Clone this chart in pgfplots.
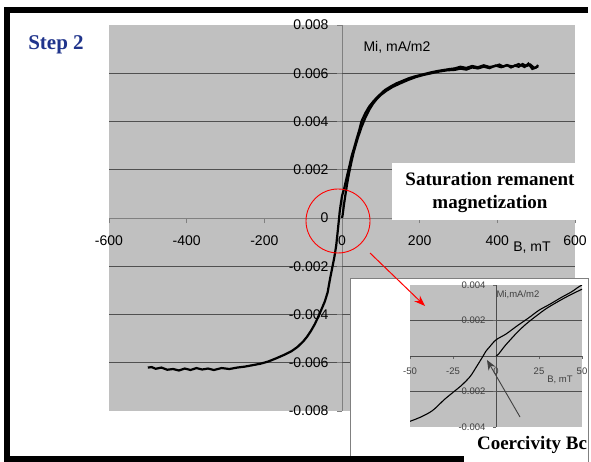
\documentclass[border=0pt]{standalone}
\usepackage{fontspec}
\setmainfont{Liberation Serif}
\setsansfont{Liberation Sans}
\usepackage{pgfplots}
\pgfplotsset{compat=1.18}
\usepackage{pgfplotstable}
\usetikzlibrary{arrows.meta}

\definecolor{plotgray}{RGB}{192,192,192}
\definecolor{stepblue}{RGB}{32,52,140}
\definecolor{gridc}{RGB}{80,80,80}

% descending branch (from +500 mT down to -500 mT)
\pgfplotstableread{
B M
505 0.00628
495 0.00622
485 0.00636
475 0.00630
465 0.00638
455 0.00627
445 0.00632
435 0.00624
425 0.00634
415 0.00628
405 0.00636
395 0.00630
380 0.00626
365 0.00633
350 0.00625
335 0.00630
320 0.00622
305 0.00627
290 0.00620
275 0.00617
260 0.00613
245 0.00609
230 0.00604
215 0.00598
200 0.00592
185 0.00586
170 0.00578
155 0.00568
140 0.00558
125 0.00545
110 0.00530
100 0.00515
90 0.00500
80 0.00482
70 0.00462
60 0.00435
50 0.00400
44 0.00362
38 0.00330
31 0.00290
25 0.00258
19 0.00215
12 0.00168
6 0.00125
0 0.00091
-3.6 0.00053
-6 0.00025
-7.5 0.00000
-11 -0.00055
-15 -0.00115
-20 -0.00165
-25 -0.00205
-30 -0.00245
-37 -0.00308
-44 -0.00345
-50 -0.00368
-60 -0.00405
-70 -0.00440
-80 -0.00468
-90 -0.00492
-100 -0.00512
-115 -0.00535
-130 -0.00552
-150 -0.00568
-170 -0.00582
-190 -0.00595
-210 -0.00604
-230 -0.00610
-250 -0.00616
-270 -0.00620
-290 -0.00626
-310 -0.00622
-330 -0.00630
-345 -0.00624
-360 -0.00628
-375 -0.00622
-390 -0.00630
-405 -0.00624
-420 -0.00632
-435 -0.00626
-450 -0.00629
-465 -0.00620
-480 -0.00625
-490 -0.00618
-500 -0.00620
}\desc

% initial magnetisation curve (from 0 up to +500 mT)
\pgfplotstableread{
B M
0 0.00000
1.4 0.00010
5 0.00055
8.3 0.00091
13 0.00140
18.2 0.00186
24 0.00230
30 0.00272
40 0.00328
50 0.00376
60 0.00415
70 0.00448
80 0.00474
90 0.00494
100 0.00510
115 0.00528
130 0.00543
150 0.00558
170 0.00572
190 0.00584
210 0.00593
230 0.00600
250 0.00607
270 0.00612
290 0.00614
305 0.00619
320 0.00615
335 0.00624
350 0.00620
365 0.00627
380 0.00621
395 0.00632
410 0.00625
425 0.00633
440 0.00628
455 0.00638
470 0.00626
480 0.00640
490 0.00618
500 0.00624
505 0.00634
}\init

\begin{document}
\begin{tikzpicture}[x=1pt,y=1pt]
\useasboundingbox (0,0) rectangle (591,462);
\fill[white] (0,0) rectangle (591,462);

% main chart
\begin{axis}[
    at={(109pt,51pt)}, anchor=south west,
    scale only axis, width=466pt, height=386pt,
    xmin=-600, xmax=600, ymin=-0.008, ymax=0.008,
    axis lines=middle,
    axis line style={-, gray, line width=1pt},
    axis background/.style={fill=plotgray},
    hide obscured x ticks=false, hide obscured y ticks=false,
    scaled y ticks=false, scaled x ticks=false,
    xtick={-600,-400,-200,0,200,400,600},
    xticklabels={-600,-400,-200,0,200,400,600},
    ytick={-0.008,0,0.008},
    yticklabels={-0.008,0,0.008},
    extra y ticks={-0.006,-0.004,-0.002,0.002,0.004,0.006},
    extra y tick labels={-0.006,-0.004,-0.002,0.002,0.004,0.006},
    extra y tick style={grid=major},
    major grid style={gridc, line width=1.1pt},
    tick style={gray, line width=0.8pt},
    tick align=outside, major tick length=5pt,
    ticklabel style={font=\sffamily\fontsize{14}{16}\selectfont},
    xticklabel style={yshift=-9pt},
    yticklabel style={xshift=-5pt},
]
\addplot[black, line width=2.2pt] table[x=B, y=M] {\desc};
\addplot[black, line width=2.2pt] table[x=B, y=M] {\init};
\end{axis}

% labels of the main chart
\node[font=\sffamily\fontsize{14}{16}\selectfont] at (397,415) {Mi, mA/m2};
\node[font=\sffamily\fontsize{14}{16}\selectfont] at (532,214) {B, mT};
\node[font=\bfseries\fontsize{21}{24}\selectfont, text=stepblue] at (56,417) {Step 2};

% callout box
\fill[white] (392,242) rectangle (576,299);
\node[font=\bfseries\fontsize{19}{23}\selectfont, align=center] at (490,269)
  {Saturation remanent\\magnetization};

% red circle
\draw[red, line width=0.9pt] (338,241) circle (32);

% inset panel
\fill[white] (350,0) rectangle (588,184);
\draw[gray, line width=0.8pt] (350,5) -- (350,184) -- (588,184) -- (588,0);

\begin{axis}[
    at={(410pt,35pt)}, anchor=south west,
    scale only axis, width=172pt, height=142pt,
    xmin=-50, xmax=50, ymin=-0.004, ymax=0.004,
    axis lines=middle,
    axis line style={-, black!70, line width=0.6pt},
    axis background/.style={fill=plotgray},
    hide obscured x ticks=false, hide obscured y ticks=false,
    scaled y ticks=false, scaled x ticks=false,
    xtick={-50,-25,0,25,50},
    xticklabels={-50,-25,0,25,50},
    ytick={-0.004,0.004},
    yticklabels={-0.004,0.004},
    extra y ticks={-0.002,0.002},
    extra y tick labels={-0.002,0.002},
    extra y tick style={grid=major},
    major grid style={gridc, line width=0.9pt},
    tick style={black!60, line width=0.5pt},
    tick align=outside, major tick length=3pt,
    ticklabel style={font=\sffamily\fontsize{9.5}{11}\selectfont, text=black!75},
    xticklabel style={yshift=-5pt},
    yticklabel style={xshift=-4pt},
]
\addplot[black, line width=1.1pt, smooth] table[x=B, y=M] {\desc};
\addplot[black, line width=1.1pt, smooth] table[x=B, y=M] {\init};
\end{axis}

\node[font=\sffamily\fontsize{9.5}{11}\selectfont, text=black!75] at (518,167) {Mi,mA/m2};
\node[font=\sffamily\fontsize{9.5}{11}\selectfont, text=black!75] at (560,82) {B, mT};
\draw[black!75, line width=0.9pt, -{Stealth[length=10pt,width=8pt]}] (520,45) -- (487,102);

% red arrow pointing into the inset
\draw[red, line width=1pt, -{Stealth[length=11pt,width=8pt]}] (370,209) -- (425,156);

% frame
\draw[black, line width=6pt] (588,452) -- (7,452) -- (7,3) -- (464,3);

\node[font=\bfseries\fontsize{19}{23}\selectfont] at (532,17) {Coercivity Bc};
\end{tikzpicture}
\end{document}
